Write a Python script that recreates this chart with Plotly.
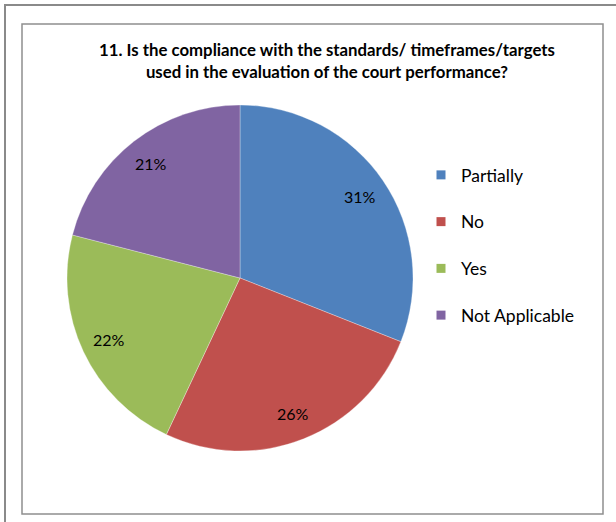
import math
import plotly.graph_objects as go

categories = ["Partially", "No", "Yes", "Not Applicable"]
values = [31, 26, 22, 21]
colors = ["#4F81BD", "#C0504D", "#9BBB59", "#8064A2"]
title_text = "11. Is the compliance with the standards/ timeframes/targets<br>used in the evaluation of the court performance?"

W, H = 616, 522
cx, cy, R = 240, 278, 173

fig = go.Figure()
fig.add_trace(go.Pie(
    labels=categories, values=values, sort=False, direction="clockwise",
    rotation=0, marker=dict(colors=colors, line=dict(color="rgba(255,255,255,0.6)", width=0.5)),
    textinfo="none",
    showlegend=False, hoverinfo="label+percent",
    domain=dict(x=[(cx - R) / W, (cx + R) / W], y=[(H - cy - R) / H, (H - cy + R) / H]),
))
for cat, col in zip(categories, colors):
    fig.add_trace(go.Scatter(
        x=[None], y=[None], mode="markers", name=cat, legendgroup=cat,
        marker=dict(symbol="square", size=9, color=col), showlegend=True,
    ))

# percentage labels placed at slice mid-angle, computed from the data
annotations = []
total = sum(values)
cum = 0
for v in values:
    mid = (cum + v / 2) / total * 2 * math.pi
    cum += v
    px = cx + 0.84 * R * math.sin(mid)
    py = cy - 0.84 * R * math.cos(mid)
    annotations.append(dict(text=f"{round(100 * v / total)}%", x=px / W, y=1 - py / H,
                            xref="paper", yref="paper", showarrow=False,
                            xanchor="center", yanchor="middle",
                            font=dict(family="Lato", size=16, color="black")))
annotations.append(dict(text="<b>" + title_text + "</b>", x=327 / W, y=1 - 61 / H,
                        xref="paper", yref="paper", xanchor="center", yanchor="middle",
                        showarrow=False, font=dict(family="Lato", size=16.8, color="black")))

fig.update_layout(
    width=W, height=H, margin=dict(l=0, r=0, t=0, b=0),
    paper_bgcolor="white", plot_bgcolor="white",
    xaxis=dict(visible=False), yaxis=dict(visible=False),
    legend=dict(x=421 / W, y=1 - 157 / H, xanchor="left", yanchor="top",
                font=dict(family="Lato", size=17.5, color="black"),
                tracegroupgap=21, bgcolor="rgba(0,0,0,0)", itemclick=False),
    annotations=annotations,
    shapes=[
        dict(type="rect", xref="paper", yref="paper", x0=5 / W, y0=-0.2, x1=1.2, y1=1 - 5 / H,
             line=dict(color="#8a8a8a", width=2)),
        dict(type="rect", xref="paper", yref="paper", x0=22 / W, y0=1 - 514 / H, x1=603 / W, y1=1 - 24 / H,
             line=dict(color="#8f8f8f", width=1.5)),
    ],
)
fig.write_html("out.html", config={"displayModeBar": False})

with open("out.html", encoding="utf-8") as f:
    html = f.read()
html = html.replace("<head>", "<head><style>html,body{margin:0;padding:0;overflow:hidden}</style>", 1)
with open("out.html", "w", encoding="utf-8") as f:
    f.write(html)
